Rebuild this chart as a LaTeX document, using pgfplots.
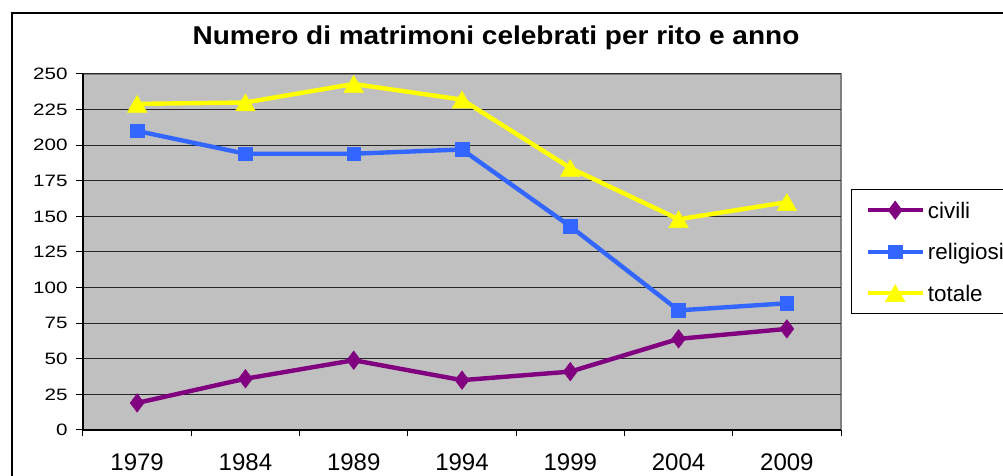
\documentclass[border=0pt]{standalone}
\usepackage{fontspec}
\setmainfont{Liberation Sans}
\usepackage{pgfplots}
\pgfplotsset{compat=1.18}

\definecolor{civ}{HTML}{800080}
\definecolor{rel}{HTML}{3366FF}
\definecolor{tot}{HTML}{FFFF00}
\definecolor{plotbg}{HTML}{C0C0C0}
\definecolor{frameg}{HTML}{808080}

% legend entries padded so the box runs past the right edge
\newcommand\lgd[1]{\makebox[42pt][l]{#1}}

\begin{document}
\begin{tikzpicture}
\useasboundingbox (0,0) rectangle (501.5pt,238pt);
% chart frame
\draw[black, line width=0.75pt] (6pt,-5pt) -- (6pt,231.5pt) -- (505pt,231.5pt);
% title
\node[anchor=base, inner sep=0pt, font=\fontsize{14}{16}\selectfont\bfseries]
  at (248pt,215.85pt) {\scalebox{1}[0.92]{Numero di matrimoni celebrati per rito e anno}};

\begin{axis}[
  at={(41.5pt,23pt)}, anchor=south west,
  scale only axis, width=379pt, height=178pt,
  xmin=-0.5, xmax=6.5, ymin=0, ymax=250,
  axis x line*=bottom, axis y line*=left,
  axis line style={-, black, line width=0.6pt},
  axis background/.style={fill=plotbg, draw=frameg, line width=1pt},
  xtick={-0.5,0.5,...,6.5},
  x tick label as interval,
  xticklabels={1979,1984,1989,1994,1999,2004,2009},
  ytick={0,25,...,250},
  yticklabel={\scalebox{1}[0.8]{\pgfmathprintnumber{\tick}}},
  ymajorgrids,
  major grid style={black!85, line width=0.5pt},
  tick align=outside, major tick length=3.25pt,
  tick style={black, line width=0.5pt},
  /pgf/number format/assume math mode=true,
  xticklabel style={anchor=north, inner sep=0pt, yshift=-8.5pt,
    font=\fontsize{12}{14}\selectfont},
  yticklabel style={anchor=east, inner sep=0pt, xshift=-4.25pt,
    font=\fontsize{10.3}{12}\selectfont},
  legend style={at={(1.0132,0.677)}, anchor=north west,
    draw=black, line width=0.5pt, fill=white, inner sep=0pt,
    font=\fontsize{11.2}{13}\selectfont,
    nodes={inner sep=0pt, text height=14.5pt, text depth=6.25pt},
    column sep=1.5pt, row sep=0pt},
  legend cell align=left,
  legend image code/.code={
    \path (0pt,0pt) (34.5pt,0pt);
    \draw[mark repeat=2, mark phase=2, #1]
      plot coordinates {(7pt,0pt) (20.75pt,0pt) (34.5pt,0pt)};
  },
  every axis plot/.append style={line width=2.2pt},
]
\addplot[color=civ, mark=diamond*, mark size=4.6pt,
  mark options={line width=0.3pt}]
  coordinates {(0,19) (1,36) (2,49) (3,35) (4,41) (5,64) (6,71)};
\addlegendentry{\lgd{civili}}
\addplot[color=rel, mark=square*, mark size=3.4pt,
  mark options={line width=0.3pt}]
  coordinates {(0,210) (1,194) (2,194) (3,197) (4,143) (5,84) (6,89)};
\addlegendentry{\lgd{religiosi}}
\addplot[color=tot, mark=triangle*, mark size=5.6pt,
  mark options={line width=0.3pt, yshift=-1.4pt}]
  coordinates {(0,229) (1,230) (2,243) (3,232) (4,184) (5,148) (6,160)};
\addlegendentry{\lgd{totale}}
\end{axis}
\end{tikzpicture}
\end{document}
